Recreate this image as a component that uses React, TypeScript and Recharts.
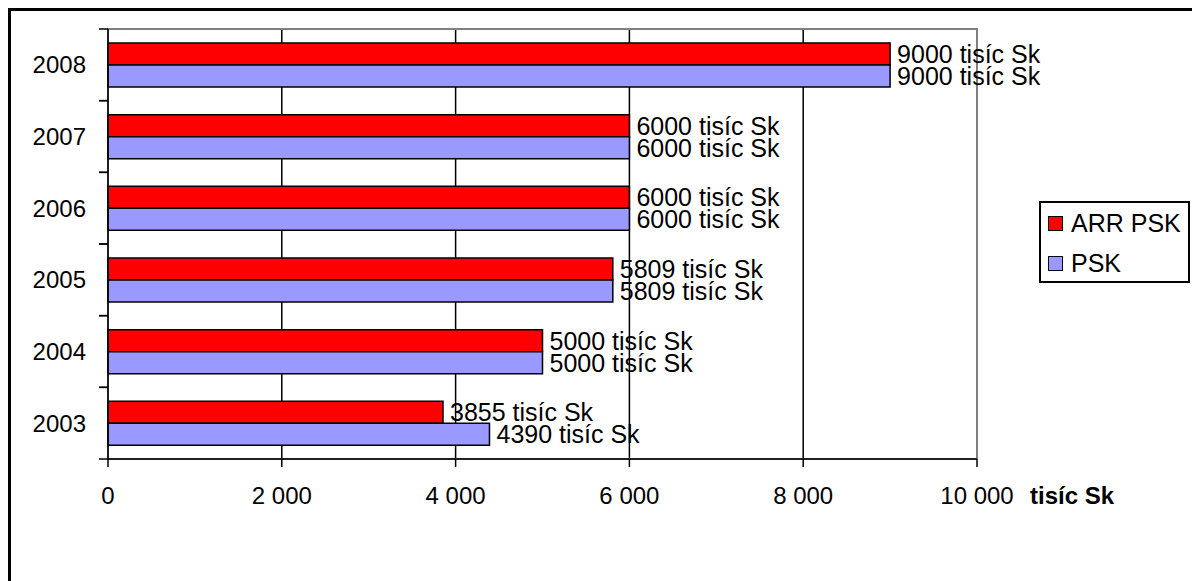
import React from 'react';
import {
  BarChart,
  Bar,
  XAxis,
  YAxis,
  CartesianGrid,
  Legend,
  LabelList,
  ReferenceArea,
  Label,
} from 'recharts';

const years = ['2003', '2004', '2005', '2006', '2007', '2008'];
const arrPsk = [3855, 5000, 5809, 6000, 6000, 9000];
const psk = [4390, 5000, 5809, 6000, 6000, 9000];
const xTicks = [0, 2000, 4000, 6000, 8000, 10000];

const data = years.map((year, i) => ({ year, arrPsk: arrPsk[i], psk: psk[i] }));

const FONT = '"Liberation Sans", Arial, sans-serif';
const CHART_W = 1183;
const CHART_H = 570;
const MARGIN = { top: 18, right: 217, bottom: 50, left: 0 };
const X_AXIS_H = 72;
const PLOT_H = CHART_H - MARGIN.top - MARGIN.bottom - X_AXIS_H;
const BAND = PLOT_H / years.length;
const Y_TICK_SIZE = 9;
const Y_TICK_MARGIN = 13;

const fmt = (v: number) =>
  v < 1000 ? String(v) : `${Math.floor(v / 1000)} ${String(v % 1000).padStart(3, '0')}`;

// category ticks sit between the bands, labels in the middle
const YTick = (props: any) => {
  const { x, y, payload } = props;
  const ax = x + Y_TICK_SIZE + Y_TICK_MARGIN;
  return (
    <g>
      <line x1={ax - Y_TICK_SIZE} x2={ax} y1={y - BAND / 2} y2={y - BAND / 2} stroke="#000" strokeWidth={1.5} />
      <line x1={ax - Y_TICK_SIZE} x2={ax} y1={y + BAND / 2} y2={y + BAND / 2} stroke="#000" strokeWidth={1.5} />
      <text x={x} y={y} dy="0.36em" textAnchor="end" fontSize={24} fontFamily={FONT} fill="#000">
        {payload.value}
      </text>
    </g>
  );
};

const LegendBox = ({ payload }: any) => (
  <div
    style={{
      border: '2px solid #000',
      background: '#fff',
      width: 151,
      height: 82,
      boxSizing: 'border-box',
      paddingLeft: 7,
      fontFamily: FONT,
      fontSize: 25,
      color: '#000',
    }}
  >
    {(payload || []).map((entry: any) => (
      <div key={entry.value} style={{ display: 'flex', alignItems: 'center', height: 40 }}>
        <span
          style={{
            display: 'inline-block',
            width: 15,
            height: 15,
            background: entry.color,
            border: '1.5px solid #000',
            boxSizing: 'border-box',
            marginRight: 8,
          }}
        />
        <span>{entry.value}</span>
      </div>
    ))}
  </div>
);

export default function App() {
  return (
    <div
      style={{
        position: 'relative',
        width: 1189,
        height: 573,
        boxSizing: 'border-box',
        borderTop: '3px solid #000',
        borderLeft: '3px solid #000',
        borderRight: '3px solid #000',
        background: '#fff',
      }}
    >
      <BarChart
        width={CHART_W}
        height={CHART_H}
        data={data}
        layout="vertical"
        margin={MARGIN}
        barSize={22}
        barGap={0}
        style={{ fontFamily: FONT }}
      >
        <CartesianGrid horizontal={false} stroke="#000" strokeWidth={1.5} />
        <ReferenceArea x1={0} x2={10000} fill="none" fillOpacity={0} stroke="#808080" strokeWidth={2} />
        <XAxis
          type="number"
          domain={[0, 10000]}
          ticks={xTicks}
          interval={0}
          tickFormatter={fmt}
          height={X_AXIS_H}
          stroke="#000"
          strokeWidth={1.5}
          tickSize={8}
          tickMargin={19.5}
          tick={{ fontSize: 24, fill: '#000', fontFamily: FONT }}
        >
          <Label
            value="tisíc Sk"
            position="right"
            offset={53}
            fontSize={24}
            fontWeight="bold"
            fill="#000"
            fontFamily={FONT}
          />
        </XAxis>
        <YAxis
          type="category"
          dataKey="year"
          reversed
          width={97}
          stroke="#000"
          strokeWidth={1.5}
          tickLine={false}
          tickSize={Y_TICK_SIZE}
          tickMargin={Y_TICK_MARGIN}
          tick={<YTick />}
          interval={0}
        />
        <Legend
          layout="horizontal"
          align="center"
          verticalAlign="middle"
          content={<LegendBox />}
          wrapperStyle={{ left: 1028, top: 190, width: 151, height: 82 }}
        />
        <Bar dataKey="arrPsk" name="ARR PSK" fill="#FF0000" stroke="#000" strokeWidth={1.5} isAnimationActive={false}>
          <LabelList
            dataKey="arrPsk"
            position="right"
            offset={7}
            formatter={(v: any) => `${v} tisíc Sk`}
            fill="#000"
            fontSize={25}
            fontFamily={FONT}
          />
        </Bar>
        <Bar dataKey="psk" name="PSK" fill="#9999FF" stroke="#000" strokeWidth={1.5} isAnimationActive={false}>
          <LabelList
            dataKey="psk"
            position="right"
            offset={7}
            formatter={(v: any) => `${v} tisíc Sk`}
            fill="#000"
            fontSize={25}
            fontFamily={FONT}
          />
        </Bar>
      </BarChart>
    </div>
  );
}
